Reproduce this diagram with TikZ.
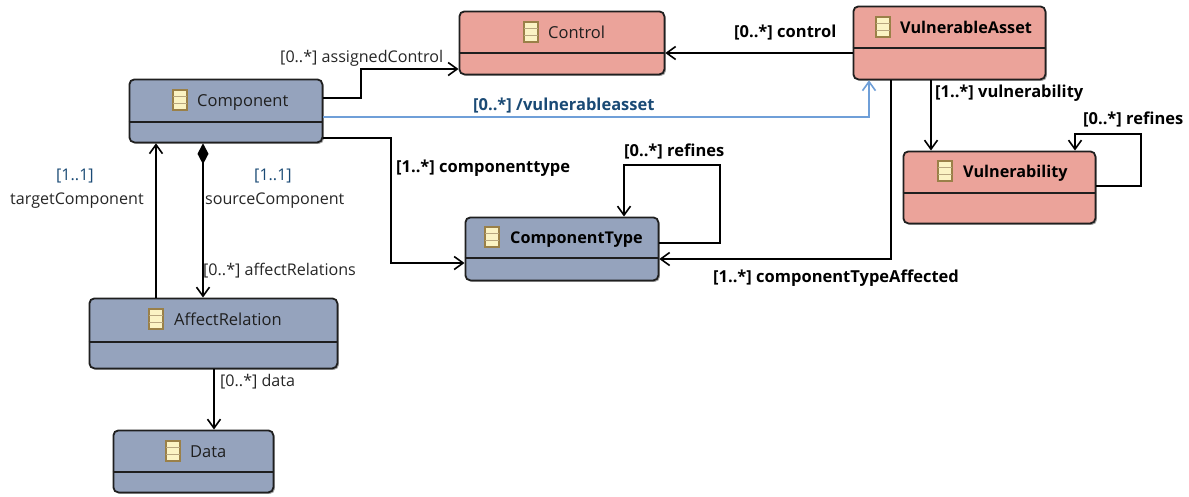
\documentclass[tikz,border=0pt]{standalone}
\usepackage{fontspec}
\setmainfont{Open Sans}
\usetikzlibrary{arrows.meta,shadows}
\definecolor{bluebox}{HTML}{95A3BD}
\definecolor{redbox}{HTML}{EBA39A}
\definecolor{linkblue}{HTML}{6F9FD8}
\definecolor{linktext}{HTML}{1A4A75}
\definecolor{multblue}{HTML}{1A4A75}
\definecolor{icofill}{HTML}{FBF3C4}
\definecolor{icoline}{HTML}{9A8048}
\tikzset{
  x=1pt,y=-1pt,
  classbox/.style={draw=black!88,line width=1.8pt,rounded corners=5pt,anchor=north west,inner sep=0pt,
    general shadow={shadow xshift=1.5pt,shadow yshift=-1.5pt,fill=black,opacity=.35}},
  bluecls/.style={classbox,fill=bluebox},
  redcls/.style={classbox,fill=redbox},
  title/.style={font=\fontsize{16.5}{18}\selectfont,text=black!88,inner sep=0pt,anchor=base west,yshift=-6pt},
  btitle/.style={title,font=\fontsize{16.2}{18}\selectfont\bfseries,text=black},
  lab/.style={font=\fontsize{16.1}{18}\selectfont,text=black!85,inner sep=0pt,anchor=west,yshift=-2pt},
  blab/.style={font=\fontsize{16.5}{18}\selectfont\bfseries,text=black,inner sep=0pt,anchor=west,yshift=-2pt},
  mult/.style={lab,text=multblue},
  barb/.tip={Straight Barb[length=9pt,width=13pt,line width=1.6pt]},
  conn/.style={draw=black,line width=1.7pt,-barb},
  divider/.style={draw=black!88,line width=1.2pt},
}
\newcommand{\classicon}[2]{%
  \fill[icofill,draw=icoline,line width=1.6pt] (#1-7,#2-10) rectangle (#1+7,#2+10);
  \draw[icoline!70,line width=1.3pt] (#1-7,#2-3.5) -- (#1+7,#2-3.5) (#1-7,#2+3.5) -- (#1+7,#2+3.5);
}
\newcommand{\classbox}[7]{%
  \pgfmathsetlengthmacro{\bw}{(#5-#3)*1pt}\pgfmathsetlengthmacro{\bh}{(#6-#4)*1pt}
  \node[#2,minimum width=\bw,minimum height=\bh] (#1) at (#3-0.5,#4-0.5) {};
  \draw[divider] (#3-0.5,#7) -- (#5-0.5,#7);
}
\begin{document}
\begin{tikzpicture}
\useasboundingbox (0,0) rectangle (1189,496);
\fill[white] (0,0) rectangle (1189,496);
\classbox{control}{redcls}{459}{11}{664}{74}{53}
\classbox{asset}{redcls}{853}{6}{1045}{79}{48}
\classbox{vuln}{redcls}{903}{151}{1095}{223}{193}
\classbox{comp}{bluecls}{129}{79}{322}{142}{122}
\classbox{ctype}{bluecls}{465}{217}{658}{280}{258}
\classbox{rel}{bluecls}{89}{298}{337}{368}{342}
\classbox{data}{bluecls}{113}{430}{273}{492}{472}
\classicon{531}{32}\node[title] (tcontrol) at (548,32) {Control};
\classicon{883}{27}\node[btitle] (tasset) at (900,27) {VulnerableAsset};
\classicon{945}{171}\node[btitle] (tvuln) at (963,171) {Vulnerability};
\classicon{180}{100}\node[title] (tcomp) at (197,100) {Component};
\classicon{492}{237}\node[btitle] (tctype) at (510,237) {ComponentType};
\classicon{156}{319}\node[title] (trel) at (174,319) {AffectRelation};
\classicon{173}{451}\node[title] (tdata) at (190,451) {Data};
% connectors
\draw[conn] (comp.east |- 0,98) -- (361,98) -- (361,69) -- (control.west |- 0,69);
\draw[conn] (asset.west |- 0,53) -- (control.east |- 0,53);
\draw[conn,draw=linkblue] (comp.east |- 0,117) -- (869,117) -- (asset.south -| 869,0);
\draw[conn] (comp.east |- 0,138) -- (391,138) -- (391,263) -- (ctype.west |- 0,263);
\draw[conn] (ctype.east |- 0,243) -- (720,243) -- (720,165) -- (624,165) -- (ctype.north -| 624,0);
\draw[conn] (asset.south -| 891,0) -- (891,259) -- (ctype.east |- 0,259);
\draw[conn] (asset.south -| 931,0) -- (vuln.north -| 931,0);
\draw[conn] (vuln.east |- 0,186) -- (1141,186) -- (1141,134) -- (1075,134) -- (vuln.north -| 1075,0);
\draw[conn] (rel.north -| 156,0) -- (comp.south -| 156,0);
\draw[conn,{Diamond[length=21pt,width=11pt]}-barb] (comp.south -| 203,0) -- (rel.north -| 203,0);
\draw[conn] (rel.south -| 214,0) -- (data.north -| 214,0);
% labels
\node[lab] (l1) at (280,56) {[0..*] assignedControl};
\node[blab] (l2) at (734,31) {[0..*] control};
\node[blab,text=linktext] (l3) at (473,104) {[0..*] /vulnerableasset};
\node[blab] (l4) at (935,91) {[1..*] vulnerability};
\node[blab] (l5) at (1083,117) {[0..*] refines};
\node[blab] (l6) at (624,149) {[0..*] refines};
\node[blab] (l7) at (396,166) {[1..*] componenttype};
\node[blab] (l8) at (713,276) {[1..*] componentTypeAffected};
\node[mult] (l9) at (56,174) {[1..1]};
\node[lab] (l10) at (10,199) {targetComponent};
\node[mult] (l11) at (254,174) {[1..1]};
\node[lab] (l12) at (205,199) {sourceComponent};
\node[lab] (l13) at (203,269) {[0..*] affectRelations};
\node[lab] (l14) at (220,380) {[0..*] data};
\end{tikzpicture}
\end{document}
